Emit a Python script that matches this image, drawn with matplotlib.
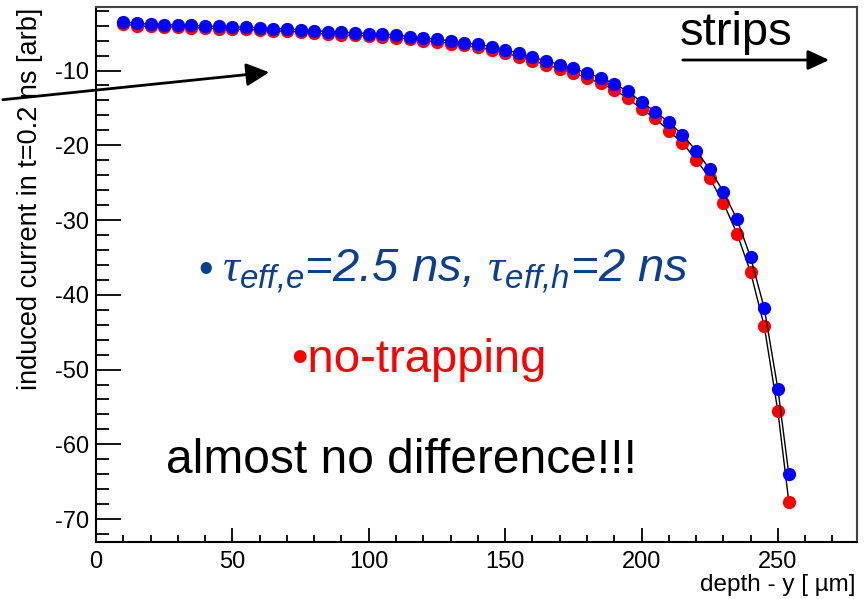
import matplotlib
matplotlib.use("Agg")
import matplotlib.pyplot as plt
from matplotlib.ticker import MultipleLocator

plt.rcParams['font.family'] = ['Liberation Sans', 'DejaVu Sans']
plt.rcParams['axes.unicode_minus'] = False
plt.rcParams['mathtext.fontset'] = 'custom'
plt.rcParams['mathtext.it'] = 'Liberation Sans:italic'
plt.rcParams['mathtext.rm'] = 'Liberation Sans:italic'
plt.rcParams['mathtext.cal'] = 'Liberation Serif:italic'

# ---- data ----
depth = [10, 15, 20, 25, 30, 35, 40, 45, 50, 55, 60, 65, 70, 75,
         80, 85, 90, 95, 100, 105, 110, 115, 120, 125, 130, 135, 140,
         145, 150, 155, 160, 165, 170, 175, 180, 185, 190, 195, 200,
         205, 210, 215, 220, 225, 230, 235, 240, 245, 250, 254]
current_trap = [-3.5, -3.7, -3.8, -3.85, -3.9, -3.95, -4.05, -4.1, -4.15, -4.2, -4.3, -4.4, -4.45, -4.55,
                -4.65, -4.8, -4.9, -4.95, -5.05, -5.15, -5.25, -5.45, -5.65, -5.8, -6.05, -6.3, -6.5,
                -6.8, -7.2, -7.7, -8.2, -8.7, -9.2, -9.7, -10.35, -10.95, -11.75, -12.8, -14.2,
                -15.5, -16.9, -18.6, -20.7, -23.2, -26.2, -29.9, -35.0, -41.8, -52.6, -64.0]
current_notrap = [-3.8, -4.0, -4.1, -4.15, -4.2, -4.25, -4.35, -4.4, -4.45, -4.5, -4.6, -4.7, -4.75, -4.85,
                  -5.0, -5.15, -5.25, -5.3, -5.4, -5.5, -5.6, -5.8, -6.0, -6.15, -6.4, -6.65, -6.9,
                  -7.25, -7.65, -8.15, -8.7, -9.2, -9.75, -10.3, -11.0, -11.7, -12.6, -13.7, -15.15,
                  -16.4, -18.05, -19.7, -21.9, -24.4, -27.7, -31.8, -37.0, -44.2, -55.6, -67.7]

W, H = 866, 599
fig = plt.figure(figsize=(W / 100, H / 100), dpi=100)
ax = fig.add_axes([96 / W, 1 - 541.5 / H, (857 - 96) / W, (541.5 - 7) / H])

def fx(px):
    return px / W

def fy(py):
    return 1 - py / H

# curves: red first, blue on top
ax.plot(depth, current_notrap, color='black', lw=1.0, zorder=2)
ax.plot(depth, current_notrap, ls='none', marker='o', ms=8.5, color='#ff0000', mec='#ff0000', zorder=3)
ax.plot(depth, current_trap, color='black', lw=1.0, zorder=4)
ax.plot(depth, current_trap, ls='none', marker='o', ms=8.5, color='#0000ff', mec='#0000ff', zorder=5)

ax.set_xlim(0, 279)
ax.set_ylim(-73, -1.5)
ax.xaxis.set_major_locator(MultipleLocator(50))
ax.xaxis.set_minor_locator(MultipleLocator(10))
ax.yaxis.set_major_locator(MultipleLocator(10))
ax.yaxis.set_minor_locator(MultipleLocator(2))
ax.tick_params(axis='both', which='both', direction='in', width=1.3, colors='black')
ax.tick_params(axis='x', which='major', length=10, labelsize=17, pad=7)
ax.tick_params(axis='x', which='minor', length=5)
ax.tick_params(axis='y', which='major', length=18, labelsize=17, pad=5)
ax.tick_params(axis='y', which='minor', length=9)
for s in ax.spines.values():
    s.set_linewidth(1.5)
    s.set_color('black')
ax.spines['top'].set_color('#444444')
ax.spines['right'].set_color('#444444')

# axis titles (ROOT style: right/top aligned)
fig.text(fx(856), fy(591), 'depth - y [ µm]', ha='right', va='baseline', fontsize=17.5)
fig.text(fx(30), fy(8), 'induced current in t=0.2 ns [arb]', rotation=90,
         ha='center', va='top', fontsize=19.5)

# annotations
fig.text(fx(680), fy(45), 'strips', ha='left', va='baseline', fontsize=34)
fig.add_artist(matplotlib.patches.FancyArrowPatch(
    (fx(680), fy(60)), (fx(832), fy(60)), transform=fig.transFigure,
    arrowstyle='-|>,head_length=13,head_width=6', mutation_scale=1, lw=2, color='black'))
fig.add_artist(matplotlib.patches.FancyArrowPatch(
    (fx(0), fy(100)), (fx(272), fy(72)), transform=fig.transFigure,
    arrowstyle='-|>,head_length=14,head_width=7', mutation_scale=1, lw=2, color='black'))

blue_txt = '#0d3f8f'
fig.text(fx(198), fy(282), '•', ha='left', va='baseline', fontsize=30, color=blue_txt)
fig.text(fx(222), fy(282),
         r'$\mathcal{\tau}_{\text{eff,e}}\text{=2.5 ns, }\mathcal{\tau}_{\text{eff,h}}\text{=2 ns}$',
         ha='left', va='baseline', fontsize=34, color=blue_txt)
fig.text(fx(291), fy(372), '•no-trapping', ha='left', va='baseline', fontsize=34, color='#ff0000')
fig.text(fx(166), fy(473), 'almost no difference!!!', ha='left', va='baseline', fontsize=34.5, color='black')

fig.savefig('out.png', dpi=100)
